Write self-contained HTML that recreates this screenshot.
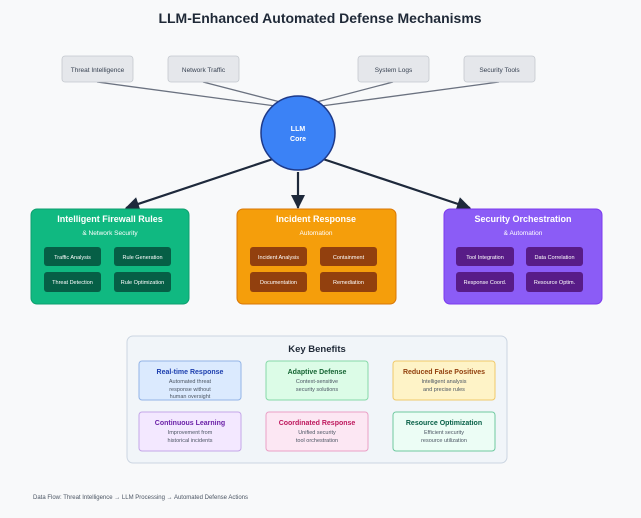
<!DOCTYPE html>
<html><head><style>
body{margin:0;width:641px;height:513px;background:#f8f9fa;font-family:"Liberation Sans",sans-serif;overflow:hidden}
</style></head><body>
<svg width="641" height="513" xmlns="http://www.w3.org/2000/svg" font-family="Liberation Sans, sans-serif">
<defs><marker id="a" markerWidth="8" markerHeight="8" refX="7" refY="4" orient="auto" markerUnits="userSpaceOnUse"><path d="M0,0 L8,4 L0,8z" fill="#1e293b"/></marker>
<marker id="b" markerWidth="14" markerHeight="14" refX="13" refY="7" orient="auto" markerUnits="userSpaceOnUse"><path d="M0,0 L14,7 L0,14z" fill="#1e293b"/></marker></defs>
<rect width="641" height="513" fill="#f8f9fa"/>
<text x="320" y="23" text-anchor="middle" font-size="14" font-weight="bold" fill="#1f2937">LLM-Enhanced Automated Defense Mechanisms</text>
<g stroke="#6b7280" stroke-width="1.3">
<line x1="97" y1="82" x2="283" y2="107"/><line x1="203" y1="82" x2="288" y2="104"/>
<line x1="393" y1="82" x2="309" y2="104"/><line x1="499" y1="82" x2="314" y2="107"/>
</g>
<g fill="#e5e7eb" stroke="#c4c8ce" stroke-width="0.8">
<rect x="62" y="56" width="71" height="26" rx="3"/><rect x="168" y="56" width="71" height="26" rx="3"/>
<rect x="358" y="56" width="71" height="26" rx="3"/><rect x="464" y="56" width="71" height="26" rx="3"/>
</g>
<g font-size="6.5" fill="#374151" text-anchor="middle">
<text x="97.5" y="72">Threat Intelligence</text><text x="203.5" y="72">Network Traffic</text>
<text x="393.5" y="72">System Logs</text><text x="499.5" y="72">Security Tools</text>
</g>
<g stroke="#1e293b" stroke-width="2.2">
<line x1="273" y1="159" x2="126" y2="208" marker-end="url(#b)"/>
<line x1="298" y1="172" x2="298" y2="208" marker-end="url(#b)"/>
<line x1="323" y1="159" x2="470" y2="208" marker-end="url(#b)"/>
</g>
<circle cx="298" cy="133" r="37" fill="#3b82f6" stroke="#1e3a8a" stroke-width="1.5"/>
<text x="298" y="131" text-anchor="middle" font-size="7" font-weight="bold" fill="#fff">LLM</text>
<text x="298" y="141" text-anchor="middle" font-size="7" font-weight="bold" fill="#fff">Core</text>

<rect x="31" y="209" width="158" height="95" rx="6" fill="#10b981" stroke="#0e9f6e"/>
<rect x="237" y="209" width="159" height="95" rx="6" fill="#f59e0b" stroke="#d97706"/>
<rect x="444" y="209" width="158" height="95" rx="6" fill="#8b5cf6" stroke="#7c3aed"/>
<g fill="#fff" text-anchor="middle" font-weight="bold" font-size="9">
<text x="110" y="222">Intelligent Firewall Rules</text><text x="316" y="222">Incident Response</text><text x="523" y="222">Security Orchestration</text>
</g>
<g fill="#fff" text-anchor="middle" font-size="6.5">
<text x="110" y="235">&amp; Network Security</text><text x="316" y="235">Automation</text><text x="523" y="235">&amp; Automation</text>
</g>
<g fill="#065f46"><rect x="44" y="247" width="57" height="19" rx="3"/><rect x="114" y="247" width="57" height="19" rx="3"/><rect x="44" y="272" width="57" height="20" rx="3"/><rect x="114" y="272" width="57" height="20" rx="3"/></g>
<g fill="#92400e"><rect x="250" y="247" width="57" height="19" rx="3"/><rect x="320" y="247" width="57" height="19" rx="3"/><rect x="250" y="272" width="57" height="20" rx="3"/><rect x="320" y="272" width="57" height="20" rx="3"/></g>
<g fill="#581c87"><rect x="456" y="247" width="58" height="19" rx="3"/><rect x="526" y="247" width="57" height="19" rx="3"/><rect x="456" y="272" width="58" height="20" rx="3"/><rect x="526" y="272" width="57" height="20" rx="3"/></g>
<g fill="#fff" text-anchor="middle" font-size="5.5">
<text x="72.5" y="259">Traffic Analysis</text><text x="142.5" y="259">Rule Generation</text><text x="72.5" y="284">Threat Detection</text><text x="142.5" y="284">Rule Optimization</text>
<text x="278.5" y="259">Incident Analysis</text><text x="348.5" y="259">Containment</text><text x="278.5" y="284">Documentation</text><text x="348.5" y="284">Remediation</text>
<text x="485" y="259">Tool Integration</text><text x="554.5" y="259">Data Correlation</text><text x="485" y="284">Response Coord.</text><text x="554.5" y="284">Resource Optim.</text>
</g>

<rect x="127" y="336" width="380" height="127" rx="6" fill="#f1f5f9" stroke="#cbd5e1"/>
<text x="317" y="352" text-anchor="middle" font-size="9.5" font-weight="bold" fill="#1f2937">Key Benefits</text>
<rect x="139" y="361" width="102" height="39" rx="3" fill="#dbeafe" stroke="#93b4e6"/>
<rect x="266" y="361" width="102" height="39" rx="3" fill="#dcfce7" stroke="#86d9a8"/>
<rect x="393" y="361" width="102" height="39" rx="3" fill="#fef3c7" stroke="#f0c96a"/>
<rect x="139" y="412" width="102" height="39" rx="3" fill="#f3e8ff" stroke="#c4a6e8"/>
<rect x="266" y="412" width="102" height="39" rx="3" fill="#fce7f3" stroke="#eaa0c6"/>
<rect x="393" y="412" width="102" height="39" rx="3" fill="#ecfdf5" stroke="#6fc9a0"/>
<g text-anchor="middle" font-size="7" font-weight="bold">
<text x="190" y="374" fill="#1e40af">Real-time Response</text><text x="317" y="374" fill="#166534">Adaptive Defense</text><text x="444" y="374" fill="#92400e">Reduced False Positives</text>
<text x="190" y="425" fill="#6b21a8">Continuous Learning</text><text x="317" y="425" fill="#be185d">Coordinated Response</text><text x="444" y="425" fill="#065f46">Resource Optimization</text>
</g>
<g text-anchor="middle" font-size="5.5" fill="#4b5563">
<text x="190" y="383">Automated threat</text><text x="190" y="391">response without</text><text x="190" y="398">human oversight</text>
<text x="317" y="383">Context-sensitive</text><text x="317" y="391">security solutions</text>
<text x="444" y="383">Intelligent analysis</text><text x="444" y="391">and precise rules</text>
<text x="190" y="434">Improvement from</text><text x="190" y="442">historical incidents</text>
<text x="317" y="434">Unified security</text><text x="317" y="442">tool orchestration</text>
<text x="444" y="434">Efficient security</text><text x="444" y="442">resource utilization</text>
</g>
<text x="33" y="499" font-size="6" fill="#4b5563">Data Flow: Threat Intelligence → LLM Processing → Automated Defense Actions</text>
</svg>
</body></html>
